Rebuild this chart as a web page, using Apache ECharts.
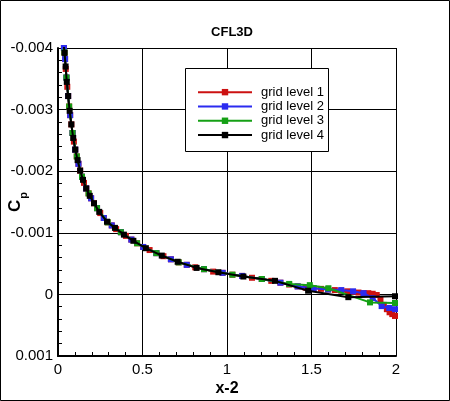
<!DOCTYPE html>
<html>
<head>
<meta charset="utf-8">
<script src="https://cdn.jsdelivr.net/npm/echarts@6/dist/echarts.min.js"></script>
<style>html,body{margin:0;padding:0;background:#fff}#c{width:450px;height:401px}</style>
</head>
<body>
<div id="c"></div>
<script>
var titleText = 'CFL3D';
var seriesNames = ['grid level 1', 'grid level 2', 'grid level 3', 'grid level 4'];
var xTicks = [0, 0.5, 1, 1.5, 2];
var yTicks = [-0.004, -0.003, -0.002, -0.001, 0, 0.001];

var level1X = [0.030,0.032,0.035,0.038,0.042,0.046,0.050,0.055,0.060,0.066,0.072,0.079,0.086,0.094,0.102,0.111,0.121,0.131,0.142,0.154,0.167,0.181,0.196,0.213,0.231,0.250,0.271,0.294,0.318,0.344,0.372,0.402,0.434,0.468,0.504,0.542,0.582,0.624,0.668,0.714,0.762,0.812,0.864,0.918,0.974,1.032,1.090,1.148,1.206,1.262,1.316,1.368,1.418,1.466,1.512,1.556,1.598,1.638,1.676,1.712,1.746,1.778,1.808,1.836,1.862,1.886,1.908,1.928,1.946,1.962,1.978,1.994];
var level1Cp = [-0.00415,-0.00410,-0.00400,-0.00393,-0.00382,-0.00366,-0.00352,-0.00337,-0.00322,-0.00305,-0.00291,-0.00276,-0.00262,-0.00248,-0.00235,-0.00224,-0.00212,-0.00201,-0.00191,-0.00181,-0.00172,-0.00164,-0.00156,-0.00148,-0.00140,-0.00132,-0.00124,-0.00117,-0.00112,-0.00106,-0.00101,-0.00095,-0.00089,-0.00083,-0.00077,-0.00072,-0.00067,-0.00062,-0.00057,-0.00052,-0.00048,-0.00044,-0.00041,-0.00037,-0.00035,-0.00032,-0.00030,-0.00027,-0.00025,-0.00022,-0.00019,-0.00016,-0.00013,-0.00011,-0.00010,-0.00009,-0.00008,-0.00007,-0.00006,-0.00005,-0.00004,-0.00003,-0.00002,-0.00002,-0.00001,0.00001,0.00009,0.00017,0.00024,0.00029,0.00032,0.00035];

var level2X = [0.030,0.035,0.042,0.050,0.060,0.072,0.086,0.102,0.121,0.142,0.167,0.196,0.231,0.271,0.318,0.372,0.434,0.504,0.582,0.668,0.762,0.864,0.974,1.090,1.206,1.316,1.418,1.512,1.598,1.676,1.746,1.808,1.862,1.915,1.960,1.994];
var level2Cp = [-0.00415,-0.00400,-0.00382,-0.00352,-0.00322,-0.00291,-0.00262,-0.00235,-0.00212,-0.00191,-0.00172,-0.00156,-0.00140,-0.00124,-0.00112,-0.00101,-0.00089,-0.00077,-0.00067,-0.00057,-0.00048,-0.00041,-0.00035,-0.00030,-0.00025,-0.00019,-0.00013,-0.00010,-0.00008,-0.00007,-0.00005,-0.00002,0.00006,0.00019,0.00022,0.00024];

var level3X = [0.030,0.038,0.050,0.066,0.086,0.111,0.142,0.181,0.231,0.294,0.372,0.468,0.582,0.714,0.864,1.032,1.206,1.368,1.490,1.600,1.846,1.994];
var level3Cp = [-0.00415,-0.00393,-0.00352,-0.00305,-0.00262,-0.00224,-0.00191,-0.00164,-0.00140,-0.00117,-0.00101,-0.00083,-0.00067,-0.00052,-0.00041,-0.00032,-0.00025,-0.00017,-0.00015,-0.00010,0.00013,0.00014];

var level4X = [0.030,0.034,0.039,0.045,0.052,0.060,0.069,0.079,0.090,0.102,0.116,0.131,0.148,0.167,0.188,0.213,0.244,0.290,0.337,0.390,0.446,0.520,0.614,0.708,0.820,0.949,1.097,1.284,1.480,1.718,1.994];
var level4Cp = [-0.00415,-0.00405,-0.00392,-0.00370,-0.00345,-0.00322,-0.00298,-0.00276,-0.00254,-0.00235,-0.00218,-0.00201,-0.00186,-0.00172,-0.00160,-0.00148,-0.00134,-0.00118,-0.00108,-0.00097,-0.00087,-0.00075,-0.00063,-0.00053,-0.00043,-0.00036,-0.00029,-0.00022,-0.00006,0.000045,0.00003];

var colors = ['#cc1111', '#2b2bf0', '#15a015', '#000000'];
var FONT = 'Liberation Sans, Arial, Helvetica, sans-serif';

function zip(xs, ys) { return xs.map(function (x, i) { return [x, ys[i]]; }); }
var allX = [level1X, level2X, level3X, level4X];
var allY = [level1Cp, level2Cp, level3Cp, level4Cp];

var chart = echarts.init(document.getElementById('c'), null, {renderer: 'canvas'});
var series = seriesNames.map(function (n, i) {
  return {
    name: n, type: 'line', data: zip(allX[i], allY[i]),
    symbol: 'rect', symbolSize: 6, showAllSymbol: true,
    lineStyle: {color: colors[i], width: 2},
    itemStyle: {color: colors[i]},
    clip: true, animation: false, z: 2 + i
  };
});

chart.setOption({
  animation: false,
  backgroundColor: '#fff',
  title: {
    text: titleText, left: 227, top: 21, textAlign: 'center',
    textStyle: {fontFamily: FONT, fontSize: 13, fontWeight: 'bold', color: '#000'}
  },
  grid: {left: 58, right: 54, top: 48, bottom: 45, containLabel: false, outerBoundsMode: 'none'},
  legend: {
    orient: 'vertical', left: 197, top: 85, padding: 0,
    itemWidth: 54, itemHeight: 8, itemGap: 0,
    data: seriesNames,
    textStyle: {fontFamily: FONT, fontSize: 13, color: '#000', lineHeight: 14.3, padding: [0, 0, 0, 4]},
    z: 10
  },
  xAxis: {
    type: 'value', min: 0, max: 2, interval: 0.5,
    name: 'x-2', nameLocation: 'middle', nameGap: 25, nameMoveOverlap: false,
    nameTextStyle: {fontFamily: FONT, fontSize: 16, fontWeight: 'bold', color: '#000'},
    axisLine: {onZero: false, lineStyle: {color: '#000', width: 2}},
    axisTick: {inside: true, length: 7, lineStyle: {color: '#000', width: 1}},
    minorTick: {show: true, splitNumber: 5, length: 4, lineStyle: {color: '#000', width: 1}},
    splitLine: {show: true, lineStyle: {color: '#000', width: 1}},
    axisLabel: {fontFamily: FONT, fontSize: 15, color: '#000', margin: 6,
      formatter: function (v) { return String(Math.round(v * 10) / 10); }}
  },
  yAxis: {
    type: 'value', min: -0.004, max: 0.001, interval: 0.001, inverse: true,
    name: '{c|C}{p|p}', nameLocation: 'middle', nameGap: 34, nameMoveOverlap: false,
    nameTextStyle: {
      fontFamily: FONT, color: '#000',
      rich: {
        c: {fontFamily: FONT, fontSize: 17, fontWeight: 'bold', color: '#000', lineHeight: 20, verticalAlign: 'bottom'},
        p: {fontFamily: FONT, fontSize: 11, fontWeight: 'bold', color: '#000', lineHeight: 20, verticalAlign: 'bottom', padding: [0, 0, -5, 1]}
      }
    },
    axisLine: {onZero: false, lineStyle: {color: '#000', width: 2}},
    axisTick: {inside: true, length: 7, lineStyle: {color: '#000', width: 1}},
    minorTick: {show: true, splitNumber: 5, length: 4, lineStyle: {color: '#000', width: 1}},
    splitLine: {show: true, lineStyle: {color: '#000', width: 1}},
    axisLabel: {fontFamily: FONT, fontSize: 15, color: '#000', margin: 5,
      formatter: function (v) { return Math.abs(v) < 1e-9 ? '0' : v.toFixed(3); }}
  },
  graphic: [
    {type: 'rect', z: 8, shape: {x: 185.5, y: 68.5, width: 143, height: 83},
      style: {fill: '#fff', stroke: '#000', lineWidth: 1}},
    {type: 'rect', z: 100, silent: true, shape: {x: 0.5, y: 0.5, width: 449, height: 400},
      style: {fill: null, stroke: '#000', lineWidth: 1}}
  ],
  series: series
});
</script>
</body>
</html>
